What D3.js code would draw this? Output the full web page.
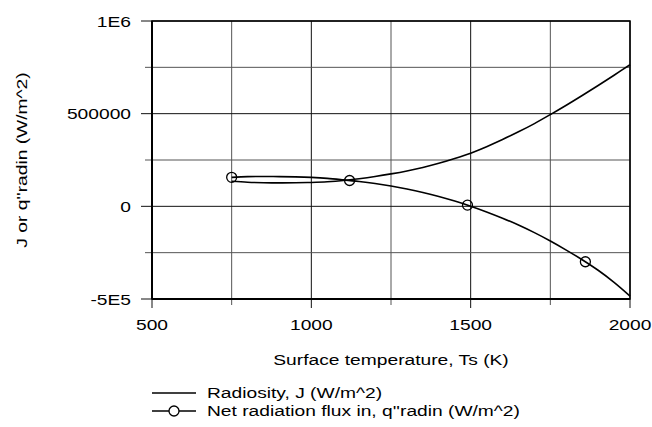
<!DOCTYPE html>
<html lang="en">
<head>
    <meta charset="UTF-8"/>
    <title>Radiosity vs surface temperature</title>
    <script src="https://d3js.org/d3.v7.min.js"></script>
    <style>
        body { margin: 0; background: #fff; }
        text { font-family: "Liberation Sans", Arial, sans-serif; fill: #000; }
    </style>
</head>
<body>
<script>

    var w = 652;
    var h = 427;

    // data
    var temps = [750, 800, 850, 900, 950, 1000, 1050, 1100, 1150, 1200, 1250, 1300, 1350,
                 1400, 1450, 1500, 1550, 1600, 1650, 1700, 1750, 1800, 1850, 1900, 1950, 2000];
    var radiosity = [135000, 130000, 127500, 126500, 127000, 129000, 132500, 139000, 149000, 161000,
                     175000, 191000, 210000, 232000, 258000, 287000, 322000, 360500, 402000, 446500,
                     495000, 545500, 598000, 652000, 707500, 764000];
    var netFlux = [156500, 160500, 161000, 160500, 159000, 156000, 151000, 143000, 134000, 123000,
                   109500, 93500, 75000, 53500, 28500, 1000, -30000, -64000, -101000, -142000,
                   -187000, -236000, -288000, -345000, -410000, -484000];

    // circle markers on the net flux curve
    var markT = [750, 1120, 1490, 1860];
    var markQ = [156500, 139500, 6500, -299000];

    var xTicks = [500, 1000, 1500, 2000];
    var xMinor = [750, 1250, 1750];
    var yTicks = [-500000, 0, 500000, 1000000];
    var yTickText = ["-5E5", "0", "500000", "1E6"];
    var yMinor = [-250000, 250000, 750000];

    var stretch = 1.24; // text in the source is drawn a bit wide

    var xScale = d3.scaleLinear().domain([500, 2000]).range([152, 630]);
    var yScale = d3.scaleLinear().domain([-500000, 1000000]).range([299, 21]);

    var svg = d3.select("body").append("svg")
                .attr("width", w)
                .attr("height", h);

    // grid
    svg.selectAll(".gx")
        .data(xTicks.concat(xMinor))
        .enter().append("line")
        .attr("x1", function(d){ return xScale(d); })
        .attr("x2", function(d){ return xScale(d); })
        .attr("y1", yScale(1000000))
        .attr("y2", function(d){ return yScale(-500000) + (xTicks.indexOf(d) >= 0 ? 9 : 6); })
        .attr("stroke", function(d){ return xTicks.indexOf(d) >= 0 ? "#111" : "#555"; })
        .attr("stroke-width", 1);

    svg.selectAll(".gy")
        .data(yTicks.concat(yMinor))
        .enter().append("line")
        .attr("y1", function(d){ return yScale(d); })
        .attr("y2", function(d){ return yScale(d); })
        .attr("x1", function(d){ return xScale(500) - (yTicks.indexOf(d) >= 0 ? 11 : 7); })
        .attr("x2", xScale(2000))
        .attr("stroke", function(d){ return yTicks.indexOf(d) >= 0 ? "#111" : "#555"; })
        .attr("stroke-width", 1);

    // frame
    svg.append("rect")
        .attr("x", xScale(500))
        .attr("y", yScale(1000000))
        .attr("width", xScale(2000) - xScale(500))
        .attr("height", yScale(-500000) - yScale(1000000))
        .attr("fill", "none")
        .attr("stroke", "#000")
        .attr("stroke-width", 1.5);

    svg.append("line")
        .attr("x1", xScale(500)).attr("x2", xScale(2000))
        .attr("y1", yScale(-500000)).attr("y2", yScale(-500000))
        .attr("stroke", "#000").attr("stroke-width", 2);
    svg.append("line")
        .attr("x1", xScale(500)).attr("x2", xScale(500))
        .attr("y1", yScale(1000000)).attr("y2", yScale(-500000))
        .attr("stroke", "#000").attr("stroke-width", 2);

    // tick labels
    svg.selectAll(".xl")
        .data(xTicks)
        .enter().append("text")
        .attr("transform", function(d){ return "translate(" + xScale(d) + ",330) scale(" + stretch + ",1)"; })
        .attr("text-anchor", "middle")
        .style("font-size", "15.5px")
        .text(function(d){ return d; });

    svg.selectAll(".yl")
        .data(yTicks)
        .enter().append("text")
        .attr("transform", function(d){ return "translate(131," + (yScale(d) + 5.5) + ") scale(" + stretch + ",1)"; })
        .attr("text-anchor", "end")
        .style("font-size", "15.5px")
        .text(function(d, i){ return yTickText[i]; });

    // axis titles
    svg.append("text")
        .attr("transform", "translate(391,365) scale(" + stretch + ",1)")
        .attr("text-anchor", "middle")
        .style("font-size", "15.5px")
        .text("Surface temperature, Ts (K)");

    svg.append("text")
        .attr("transform", "translate(27,160) rotate(-90) scale(" + stretch + ",1)")
        .attr("text-anchor", "middle")
        .style("font-size", "15.5px")
        .text("J or q''radin (W/m^2)");

    // curves
    var line = d3.line()
        .x(function(d){ return xScale(d[0]); })
        .y(function(d){ return yScale(d[1]); })
        .curve(d3.curveCatmullRom);

    svg.append("path")
        .datum(d3.zip(temps, radiosity))
        .attr("d", line)
        .attr("fill", "none")
        .attr("stroke", "#000")
        .attr("stroke-width", 1.6);

    svg.append("path")
        .datum(d3.zip(temps, netFlux))
        .attr("d", line)
        .attr("fill", "none")
        .attr("stroke", "#000")
        .attr("stroke-width", 1.6);

    svg.selectAll(".mk")
        .data(d3.zip(markT, markQ))
        .enter().append("circle")
        .attr("cx", function(d){ return xScale(d[0]); })
        .attr("cy", function(d){ return yScale(d[1]); })
        .attr("r", 5)
        .attr("fill", "none")
        .attr("stroke", "#000")
        .attr("stroke-width", 1.3);

    // legend
    var legend = [
        {name: "Radiosity, J (W/m^2)", mark: false},
        {name: "Net radiation flux in, q''radin (W/m^2)", mark: true}
    ];

    var lg = svg.selectAll(".lg")
        .data(legend)
        .enter().append("g")
        .attr("transform", function(d, i){ return "translate(152," + (393 + i * 18) + ")"; });

    lg.append("line")
        .attr("x1", 0).attr("x2", 44)
        .attr("stroke", "#000")
        .attr("stroke-width", 1.6);

    lg.filter(function(d){ return d.mark; })
        .append("circle")
        .attr("cx", 22).attr("r", 5)
        .attr("fill", "#fff")
        .attr("stroke", "#000")
        .attr("stroke-width", 1.3);

    lg.append("text")
        .attr("transform", "translate(55,5) scale(" + stretch + ",1)")
        .style("font-size", "15.5px")
        .text(function(d){ return d.name; });

</script>
</body>
</html>
